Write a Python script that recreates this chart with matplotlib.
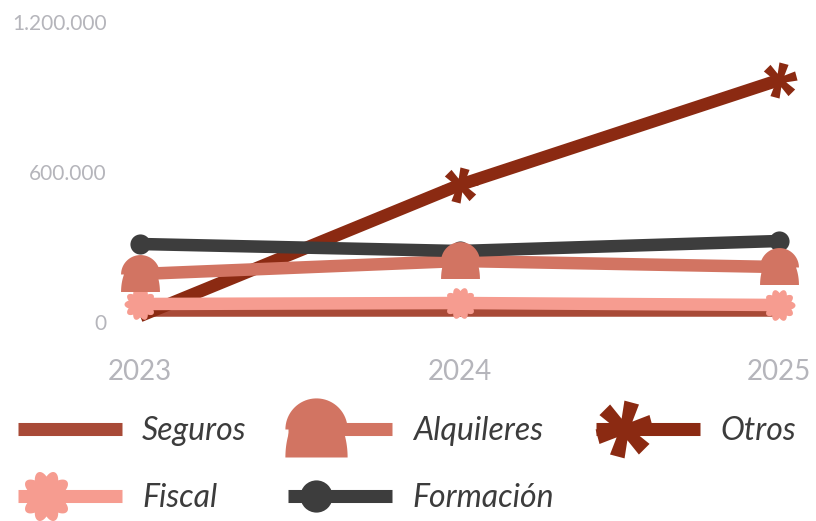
import numpy as np
import matplotlib
matplotlib.use("Agg")
import matplotlib.pyplot as plt
from matplotlib.path import Path
from matplotlib.lines import Line2D
from matplotlib.legend_handler import HandlerLine2DCompound
from matplotlib.ticker import FuncFormatter

plt.rcParams['font.family'] = ['Lato', 'DejaVu Sans']

years = [2023, 2024, 2025]
seguros = [50000, 50000, 50000]
alquileres = [192000, 244000, 220000]
otros = [24000, 548000, 968000]
fiscal = [72000, 76000, 68000]
formacion = [312000, 284000, 324000]

labels = ['Seguros', 'Alquileres', 'Otros', 'Fiscal', 'Formación']
colors = ['#a84a37', '#d27462', '#8b2a12', '#f69c90', '#3d3d3d']
yticks = [0, 600000, 1200000]


def closed(verts):
    verts = np.asarray(verts)
    codes = [Path.MOVETO] + [Path.LINETO] * (len(verts) - 2) + [Path.CLOSEPOLY]
    return Path(verts, codes)


def dome_marker():
    # dome on top, slightly narrower bell below
    t = np.linspace(0, np.pi, 40)
    top = np.column_stack([np.cos(t), np.sin(t)])
    s0 = np.arcsin(0.9 / 1.71)
    s = np.linspace(s0, 0, 20)
    left = np.column_stack([-np.cos(s), -0.9 + 1.71 * np.sin(s)])
    right = np.column_stack([np.cos(s[::-1]), -0.9 + 1.71 * np.sin(s[::-1])])
    return closed(np.vstack([top, left, right, [[1, 0]]]))


def flower_marker(petals=10):
    th = np.linspace(0, 2 * np.pi, 241)
    r = 0.78 + 0.22 * np.abs(np.cos(petals / 2 * th))
    return closed(np.column_stack([r * np.cos(th), r * np.sin(th)]))


def asterisk_marker(arms=6, rot=15):
    verts = []
    w_in, w_out, R = 0.2, 0.27, 1.0
    for k in range(arms):
        a = np.radians(rot + k * 360 / arms)
        u = np.array([np.cos(a), np.sin(a)])
        n = np.array([-np.sin(a), np.cos(a)])
        verts.append(R * u - w_out * n)
        verts.append(R * u + w_out * n)
        b = a + np.pi / arms
        verts.append(w_in / np.sin(np.pi / arms) * np.array([np.cos(b), np.sin(b)]))
    verts.append(verts[0])
    return closed(verts)


markers = [None, dome_marker(), asterisk_marker(), flower_marker(), 'o']
msizes = [0, 28, 26, 23, 14.5]
series = [seguros, alquileres, otros, fiscal, formacion]
line_z = [1, 3, 2, 3, 4]
mark_z = [0, 8, 5, 6, 7]
mark_every = [None, None, [1, 2], None, None]


class LeftMarkerHandler(HandlerLine2DCompound):
    def get_xdata(self, legend, xdescent, ydescent, width, height, fontsize):
        xdata = np.array([-xdescent, -xdescent + width])
        xmark = np.array([-xdescent + 0.27 * width])
        return xdata, xmark


fig = plt.figure(figsize=(8.16, 5.21), dpi=100)
ax = fig.add_axes([118 / 816, (521 - 340) / 521, 682 / 816, 328 / 521])

for vals, c, z in zip(series, colors, line_z):
    ax.plot(years, vals, color=c, lw=9, solid_capstyle='butt', zorder=z)
for vals, c, m, ms, z, me in zip(series, colors, markers, msizes, mark_z, mark_every):
    if m is None:
        continue
    ax.plot(years, vals, ls='none', marker=m, ms=ms, color=c,
            markeredgewidth=0, markevery=me, zorder=z)

ax.set_xlim(2022.9311, 2025.0657)
ax.set_ylim(-72000, 1240000)
ax.set_xticks(years)
ax.set_yticks(yticks)
ax.yaxis.set_major_formatter(FuncFormatter(lambda v, p: f'{int(v):,}'.replace(',', '.')))
ax.tick_params(axis='x', length=0, pad=14, labelsize=20, labelcolor='#b5b5bb')
ax.tick_params(axis='y', length=0, pad=8, labelsize=15, labelcolor='#b5b5bb')
for sp in ax.spines.values():
    sp.set_visible(False)

handles = []
for c, m, ms in zip(colors, markers, msizes):
    handles.append(Line2D([], [], color=c, lw=9.4, solid_capstyle='butt',
                          marker=m if m is not None else '', ms=ms * 1.6,
                          markeredgewidth=0))
order = [0, 3, 1, 4, 2]
leg = fig.legend([handles[i] for i in order], [labels[i] for i in order],
                 ncol=3, loc='upper left', bbox_to_anchor=(18 / 816, 1 - 416 / 521),
                 frameon=False, borderpad=0, borderaxespad=0,
                 handlelength=3.26, handletextpad=0.63, columnspacing=1.3,
                 labelspacing=1.17,
                 prop={'size': 23, 'style': 'italic'},
                 handler_map={Line2D: LeftMarkerHandler()})
for t in leg.get_texts():
    t.set_color('#3c3c3c')

fig.savefig('out.png', dpi=100)
